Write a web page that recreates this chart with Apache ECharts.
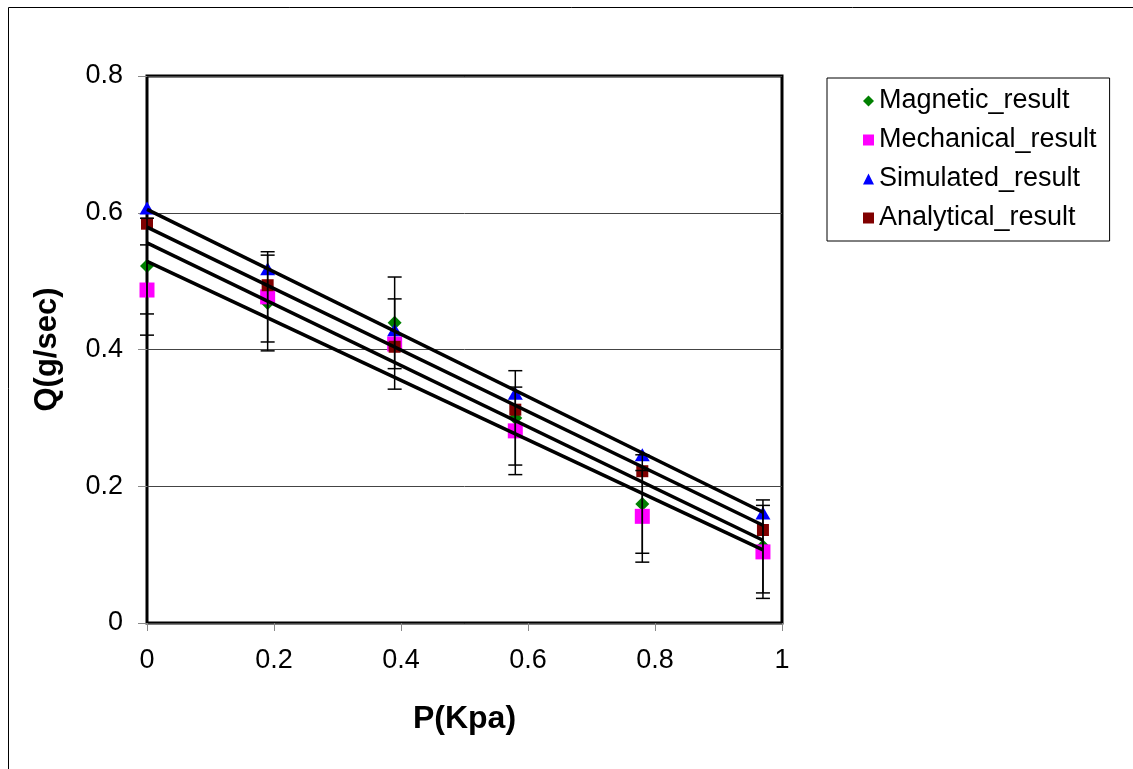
<!DOCTYPE html>
<html>
<head>
<meta charset="utf-8">
<script src="https://cdn.jsdelivr.net/npm/echarts@6/dist/echarts.min.js"></script>
<style>
html,body{margin:0;padding:0;background:#fff;}
#c{width:1133px;height:769px;}
</style>
</head>
<body>
<div id="c"></div>
<script>
// ---- data ----
const xValues = [0, 0.19, 0.39, 0.58, 0.78, 0.97];
const magnetic = [0.522, 0.468, 0.439, 0.300, 0.174, 0.112];
const mechanical = [0.487, 0.477, 0.408, 0.281, 0.156, 0.104];
const simulated = [0.607, 0.518, 0.429, 0.336, 0.246, 0.161];
const analytical = [0.584, 0.494, 0.404, 0.312, 0.222, 0.136];
const magneticErr = [0.070, 0.070, 0.067, 0.069, 0.072, 0.068];
const mechanicalErr = [0.066, 0.066, 0.066, 0.064, 0.067, 0.068];
const trendX = [0, 0.97];
const simulatedTrend = [0.605, 0.162];
const analyticalTrend = [0.579, 0.143];
const magneticTrend = [0.556, 0.121];
const mechanicalTrend = [0.529, 0.107];
const seriesNames = ['Magnetic_result', 'Mechanical_result', 'Simulated_result', 'Analytical_result'];
const xTicks = [0, 0.2, 0.4, 0.6, 0.8, 1];
const yTicks = [0, 0.2, 0.4, 0.6, 0.8];

const FONT = '"Liberation Sans", Arial, sans-serif';
const pairs = (xs, ys) => xs.map((x, i) => [x, ys[i]]);
const errData = (ys, es) => xValues.map((x, i) => [x, ys[i] - es[i], ys[i] + es[i]]);

function errorRender(params, api) {
  const x = api.value(0);
  const lo = api.coord([x, api.value(1)]);
  const hi = api.coord([x, api.value(2)]);
  const w = 7;
  const style = { stroke: '#000', lineWidth: 1.5 };
  return {
    type: 'group',
    children: [
      { type: 'line', shape: { x1: lo[0], y1: lo[1], x2: hi[0], y2: hi[1] }, style },
      { type: 'line', shape: { x1: lo[0] - w, y1: lo[1], x2: lo[0] + w, y2: lo[1] }, style },
      { type: 'line', shape: { x1: hi[0] - w, y1: hi[1], x2: hi[0] + w, y2: hi[1] }, style }
    ]
  };
}

function trend(ys) {
  return {
    type: 'line', data: pairs(trendX, ys), showSymbol: false, symbol: 'none',
    lineStyle: { color: '#000', width: 3.5 }, silent: true, z: 5,
    animation: false, legendHoverLink: false
  };
}

const chart = echarts.init(document.getElementById('c'), null, { renderer: 'canvas' });
chart.setOption({
  animation: false,
  backgroundColor: '#fff',
  graphic: [{
    type: 'rect', z: -10, silent: true,
    shape: { x: 8.5, y: 7.5, width: 1200, height: 800 },
    style: { fill: 'none', stroke: '#000', lineWidth: 1 }
  }],
  grid: {
    left: 147, top: 76, width: 635, height: 547,
    show: true, borderColor: '#000', borderWidth: 3, backgroundColor: 'transparent'
  },
  legend: {
    orient: 'vertical', left: 827, top: 78,
    borderColor: '#000', borderWidth: 1,
    padding: [8, 13, 8, 36],
    itemGap: 9, itemWidth: 11, itemHeight: 11,
    textStyle: { fontFamily: FONT, fontSize: 27, color: '#000', lineHeight: 30 },
    data: [
      { name: seriesNames[0], icon: 'diamond' },
      { name: seriesNames[1], icon: 'rect' },
      { name: seriesNames[2], icon: 'triangle' },
      { name: seriesNames[3], icon: 'rect' }
    ]
  },
  xAxis: {
    type: 'value', min: 0, max: 1, interval: 0.2,
    name: 'P(Kpa)', nameLocation: 'middle', nameGap: 80,
    nameTextStyle: { fontFamily: FONT, fontSize: 32, fontWeight: 'bold', color: '#000' },
    axisLine: { show: false },
    axisTick: { show: true, length: 8, lineStyle: { color: '#888', width: 1 } },
    axisLabel: {
      fontFamily: FONT, fontSize: 27, color: '#000', margin: 24,
      formatter: v => { const t = xTicks.find(k => Math.abs(k - v) < 1e-9); return t === undefined ? '' : String(t); }
    },
    splitLine: { show: false }
  },
  yAxis: {
    type: 'value', min: 0, max: 0.8, interval: 0.2,
    name: 'Q(g/sec)', nameLocation: 'middle', nameGap: 84, nameRotate: 90,
    nameTextStyle: { fontFamily: FONT, fontSize: 31, fontWeight: 'bold', color: '#000' },
    axisLine: { show: false },
    axisTick: { show: true, length: 9, lineStyle: { color: '#888', width: 1 } },
    axisLabel: {
      fontFamily: FONT, fontSize: 27, color: '#000', margin: 24,
      formatter: v => { const t = yTicks.find(k => Math.abs(k - v) < 1e-9); return t === undefined ? '' : String(t); }
    },
    splitLine: { show: true, lineStyle: { color: '#444', width: 1 } }
  },
  series: [
    { name: seriesNames[0], type: 'scatter', data: pairs(xValues, magnetic), symbol: 'diamond', symbolSize: [14, 14], itemStyle: { color: '#008000', opacity: 1 }, z: 3 },
    { name: seriesNames[1], type: 'scatter', data: pairs(xValues, mechanical), symbol: 'rect', symbolSize: 15, itemStyle: { color: '#FF00FF', opacity: 1 }, z: 3 },
    { name: seriesNames[2], type: 'scatter', data: pairs(xValues, simulated), symbol: 'triangle', symbolSize: [15, 13], itemStyle: { color: '#0000FF', opacity: 1 }, z: 3 },
    { name: seriesNames[3], type: 'scatter', data: pairs(xValues, analytical), symbol: 'rect', symbolSize: 12, itemStyle: { color: '#800000', opacity: 1 }, z: 3 },
    { type: 'custom', renderItem: errorRender, data: errData(magnetic, magneticErr), encode: { x: 0, y: [1, 2] }, z: 4, silent: true },
    { type: 'custom', renderItem: errorRender, data: errData(mechanical, mechanicalErr), encode: { x: 0, y: [1, 2] }, z: 4, silent: true },
    trend(simulatedTrend),
    trend(analyticalTrend),
    trend(magneticTrend),
    trend(mechanicalTrend)
  ]
});
</script>
</body>
</html>
